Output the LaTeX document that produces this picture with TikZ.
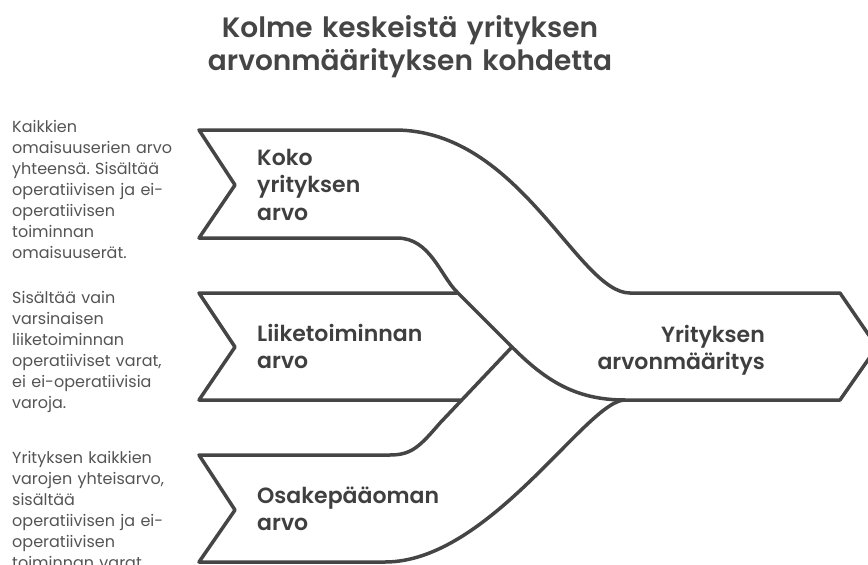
\documentclass[tikz,border=0pt]{standalone}
\usepackage{fontspec}
\setmainfont{Poppins}[BoldFont={Poppins SemiBold}]
\definecolor{ln}{HTML}{454545}
\definecolor{lbl}{HTML}{3F3F3F}
\definecolor{desc}{HTML}{545454}
\tikzset{
  band/.style={draw=ln, line width=3.5pt, line join=round, line cap=round},
  titletext/.style={inner sep=0pt, text=ln, text width=520pt, align=center, anchor=base, font=\bfseries\fontsize{28}{33}\selectfont},
  labeltext/.style={inner sep=0pt, text=lbl, text width=200pt, align=left, anchor=base west, font=\bfseries\fontsize{22}{27.5}\selectfont},
  desctext/.style={inner sep=0pt, text=desc, text width=190pt, align=left, anchor=base west, font=\fontsize{16}{21}\selectfont}
}
\frenchspacing
\begin{document}
\begin{tikzpicture}[x=1pt,y=-1pt]
\useasboundingbox (0,0) rectangle (868,565);
% Koko band merging into main arrow
\draw[band] (397,238) .. controls (430,238) and (440,275) .. (457,292)
  -- (512,347) .. controls (545,380) and (575,400) .. (625,400)
  -- (840,400) -- (877,347) -- (840,293) -- (630,293)
  .. controls (578,293) and (520,130) .. (395,130)
  -- (199,130) -- (235,185) -- (199,238) -- cycle;
% Liiketoiminnan band
\draw[band] (457,293) -- (199,293) -- (235,347) -- (199,400) -- (461,400);
% Osakepaaoman band
\draw[band] (512,347) -- (440,423) .. controls (420,446) and (412,455) .. (390,455)
  -- (199,455) -- (235,510) -- (199,562) -- (385,562)
  .. controls (490,562) and (587,400) .. (625,400);
% title
\node[titletext] (title) at (410,37) {Kolme keskeistä yrityksen\\arvonmäärityksen kohdetta};
% labels
\node[labeltext] (koko) at (257,165) {Koko\\yrityksen\\arvo};
\node[labeltext] (liike) at (257,341) {Liiketoiminnan\\arvo};
\node[labeltext] (osake) at (257,503) {Osakepääoman\\arvo};
\node[labeltext, align=right, anchor=base east] (arvon) at (765,342) {Yrityksen\\arvonmääritys};
% descriptions
\node[desctext] (d1) at (12,132) {Kaikkien\\omaisuuserien arvo\\yhteensä. Sisältää\\operatiivisen ja ei-\\operatiivisen\\toiminnan\\omaisuuserät.};
\node[desctext] (d2) at (12,303) {Sisältää vain\\varsinaisen\\liiketoiminnan\\operatiiviset varat,\\ei ei-operatiivisia\\varoja.};
\node[desctext] (d3) at (12,463) {Yrityksen kaikkien\\varojen yhteisarvo,\\sisältää\\operatiivisen ja ei-\\operatiivisen\\toiminnan varat.};
\end{tikzpicture}
\end{document}
